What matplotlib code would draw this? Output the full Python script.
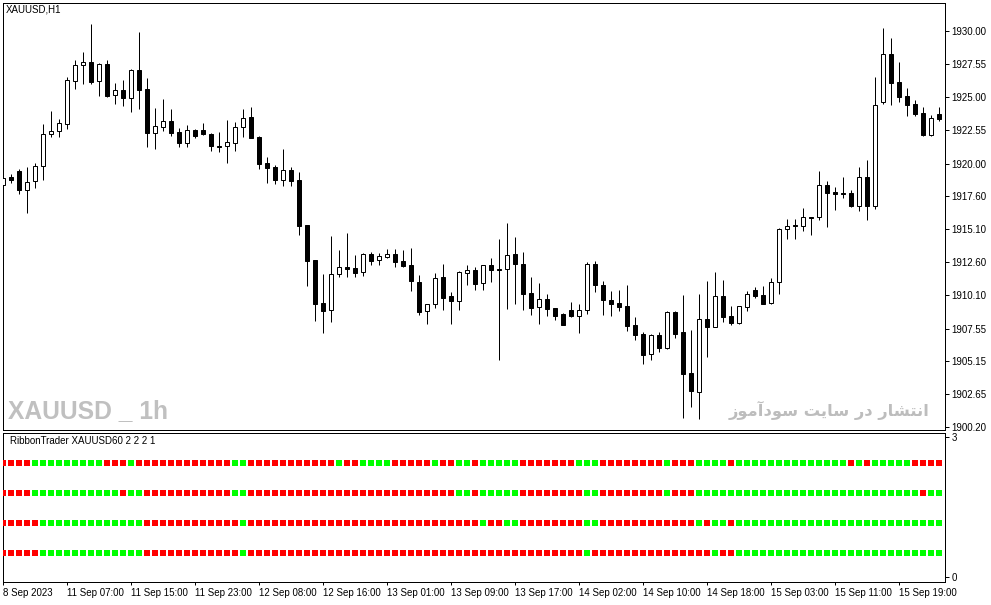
import matplotlib
matplotlib.use("Agg")
import matplotlib.pyplot as plt
import matplotlib.font_manager as fm
import numpy as np

# ---------------- data ----------------
opens = [
    1918.39, 1919.02, 1919.47, 1918.01, 1918.69, 1919.82, 1922.23, 1922.45, 1923.03, 1926.21,
    1927.42, 1927.64, 1926.21, 1927.52, 1925.16, 1925.54, 1924.98, 1927.04, 1925.64, 1922.35,
    1922.80, 1923.20, 1922.40, 1921.60, 1922.53, 1922.53, 1922.25, 1921.32, 1921.32, 1921.60,
    1922.75, 1923.53, 1922.02, 1920.07, 1919.77, 1918.81, 1919.54, 1918.79, 1915.40, 1912.77,
    1909.53, 1908.98, 1911.69, 1912.24, 1912.14, 1911.84, 1913.20, 1912.75, 1912.97, 1913.22,
    1912.70, 1912.39, 1911.12, 1908.91, 1909.43, 1911.47, 1910.04, 1909.71, 1911.77, 1911.99,
    1911.02, 1912.37, 1912.07, 1912.07, 1913.22, 1912.47, 1910.29, 1909.21, 1909.81, 1909.13,
    1908.68, 1908.98, 1908.58, 1908.98, 1912.47, 1910.89, 1909.76, 1909.54, 1909.31, 1907.88,
    1907.20, 1905.67, 1907.12, 1906.12, 1908.86, 1907.33, 1904.29, 1902.86, 1908.30, 1907.75,
    1910.03, 1908.55, 1908.05, 1909.21, 1910.49, 1910.11, 1909.56, 1911.09, 1915.08, 1915.38,
    1915.35, 1916.03, 1916.03, 1918.39, 1917.86, 1917.81, 1917.79, 1916.86, 1919.02, 1916.86,
    1924.68, 1928.27, 1926.16, 1925.11, 1924.51, 1923.83, 1922.18, 1923.76]

highs = [
    1919.24, 1919.24, 1919.62, 1919.79, 1920.04, 1923.00, 1923.98, 1923.38, 1926.54, 1927.82,
    1928.42, 1930.53, 1927.62, 1927.82, 1926.06, 1926.31, 1927.12, 1929.93, 1926.46, 1924.21,
    1924.88, 1924.13, 1922.68, 1922.93, 1922.60, 1923.08, 1922.30, 1922.40, 1923.30, 1923.13,
    1924.13, 1924.28, 1922.10, 1920.52, 1919.92, 1921.12, 1919.77, 1919.39, 1915.40, 1912.80,
    1911.72, 1914.58, 1913.52, 1914.80, 1913.15, 1913.30, 1913.37, 1913.32, 1913.60, 1913.60,
    1913.52, 1913.67, 1911.64, 1909.45, 1911.82, 1912.47, 1910.36, 1911.92, 1912.39, 1912.24,
    1912.37, 1912.92, 1914.35, 1915.55, 1914.50, 1913.37, 1911.49, 1911.04, 1910.21, 1909.13,
    1908.78, 1909.58, 1909.46, 1912.62, 1912.70, 1911.19, 1910.44, 1910.51, 1910.89, 1908.48,
    1907.38, 1907.17, 1907.33, 1908.91, 1908.91, 1910.13, 1907.50, 1910.21, 1911.19, 1911.87,
    1911.26, 1909.31, 1909.31, 1910.44, 1910.74, 1910.81, 1911.41, 1915.18, 1915.83, 1915.83,
    1916.66, 1916.03, 1919.47, 1918.69, 1918.24, 1919.02, 1918.04, 1919.77, 1920.29, 1926.54,
    1930.23, 1929.47, 1927.67, 1925.71, 1924.81, 1924.28, 1923.68, 1924.28]

lows = [
    1917.84, 1918.54, 1917.71, 1916.33, 1918.16, 1918.81, 1922.05, 1922.05, 1922.65, 1925.66,
    1926.04, 1926.04, 1925.13, 1925.06, 1924.53, 1924.38, 1923.93, 1924.16, 1921.30, 1921.15,
    1922.50, 1922.12, 1921.25, 1921.30, 1921.97, 1922.20, 1921.00, 1920.92, 1920.09, 1921.00,
    1922.05, 1921.95, 1919.62, 1918.59, 1918.49, 1918.36, 1918.36, 1914.65, 1910.84, 1908.20,
    1907.30, 1908.13, 1911.47, 1911.47, 1911.52, 1911.59, 1912.42, 1912.42, 1912.95, 1912.27,
    1912.22, 1910.46, 1908.63, 1907.98, 1909.16, 1909.01, 1907.98, 1909.01, 1910.91, 1910.54,
    1910.54, 1911.14, 1905.25, 1909.11, 1909.48, 1908.98, 1908.66, 1907.98, 1908.58, 1908.23,
    1907.88, 1908.51, 1907.30, 1908.73, 1910.39, 1908.66, 1908.58, 1908.96, 1907.45, 1906.78,
    1904.95, 1905.27, 1905.87, 1906.07, 1906.92, 1900.85, 1901.73, 1900.78, 1905.50, 1907.73,
    1908.13, 1907.88, 1907.98, 1908.96, 1909.91, 1909.48, 1909.48, 1910.23, 1914.37, 1914.37,
    1914.98, 1914.68, 1915.78, 1915.23, 1916.53, 1917.46, 1916.78, 1916.48, 1915.81, 1916.63,
    1924.53, 1924.43, 1924.68, 1923.60, 1923.60, 1922.13, 1922.13, 1923.25]

closes = [
    1918.96, 1918.81, 1918.06, 1918.61, 1919.84, 1922.23, 1922.45, 1923.05, 1926.29, 1927.42,
    1927.64, 1926.19, 1927.52, 1925.11, 1925.54, 1924.98, 1927.07, 1925.59, 1922.35, 1922.83,
    1923.20, 1922.35, 1921.60, 1922.53, 1922.12, 1922.27, 1921.37, 1921.28, 1921.62, 1922.75,
    1923.43, 1921.97, 1920.00, 1919.72, 1918.81, 1919.52, 1918.74, 1915.35, 1912.72, 1909.46,
    1908.96, 1911.72, 1912.24, 1912.12, 1911.82, 1913.22, 1912.72, 1913.05, 1913.20, 1912.65,
    1912.34, 1911.22, 1908.88, 1909.43, 1911.42, 1909.94, 1909.71, 1911.84, 1911.99, 1910.99,
    1912.37, 1912.04, 1912.05, 1913.12, 1912.44, 1910.24, 1909.18, 1909.81, 1909.11, 1908.58,
    1907.90, 1908.58, 1908.98, 1912.47, 1910.91, 1909.74, 1909.49, 1909.23, 1907.83, 1907.15,
    1905.65, 1907.12, 1906.12, 1908.86, 1907.23, 1904.22, 1902.94, 1908.30, 1907.75, 1910.03,
    1908.50, 1908.05, 1909.31, 1910.19, 1910.09, 1909.48, 1911.09, 1915.08, 1915.30, 1915.30,
    1915.98, 1915.96, 1918.39, 1917.84, 1917.76, 1917.76, 1916.86, 1919.02, 1916.86, 1924.41,
    1928.27, 1926.11, 1925.06, 1924.43, 1923.76, 1922.18, 1923.43, 1923.41]

# RibbonTrader rows as run lengths (R = red, G = green), one entry per bar
ribbon_1_runs = [("R", 4), ("G", 9), ("R", 3), ("G", 1), ("R", 12), ("G", 2), ("R", 11),
                 ("G", 1), ("R", 2), ("G", 4), ("R", 5), ("G", 1), ("R", 2), ("G", 2),
                 ("R", 1), ("G", 5), ("R", 7), ("G", 3), ("R", 8), ("G", 1), ("R", 3),
                 ("G", 4), ("R", 1), ("G", 14), ("R", 1), ("G", 1), ("R", 1), ("G", 5),
                 ("R", 4)]
ribbon_2_runs = [("R", 4), ("G", 11), ("R", 1), ("G", 2), ("R", 11), ("G", 2), ("R", 26),
                 ("G", 2), ("R", 1), ("G", 5), ("R", 8), ("G", 2), ("R", 8), ("G", 1),
                 ("R", 3), ("G", 28), ("R", 1), ("G", 2)]
ribbon_3_runs = [("R", 5), ("G", 13), ("R", 12), ("G", 1), ("R", 29), ("G", 1), ("R", 2),
                 ("G", 2), ("R", 8), ("G", 2), ("R", 12), ("G", 1), ("R", 1), ("G", 2),
                 ("R", 1), ("G", 26)]
ribbon_4_runs = [("R", 5), ("G", 13), ("R", 12), ("G", 1), ("R", 42), ("G", 1), ("R", 15),
                 ("G", 1), ("R", 2), ("G", 26)]

price_ticks = [1930.00, 1927.55, 1925.00, 1922.55, 1920.00, 1917.60, 1915.10,
               1912.60, 1910.10, 1907.55, 1905.15, 1902.65, 1900.20]
price_tick_labels = ["1930.00", "1927.55", "1925.00", "1922.55", "1920.00", "1917.60",
                     "1915.10", "1912.60", "1910.10", "1907.55", "1905.15", "1902.65",
                     "1900.20"]
time_tick_bars = [0, 8, 16, 24, 32, 40, 48, 56, 64, 72, 80, 88, 96, 104, 112]
time_tick_labels = ["8 Sep 2023", "11 Sep 07:00", "11 Sep 15:00", "11 Sep 23:00",
                    "12 Sep 08:00", "12 Sep 16:00", "13 Sep 01:00", "13 Sep 09:00",
                    "13 Sep 17:00", "14 Sep 02:00", "14 Sep 10:00", "14 Sep 18:00",
                    "15 Sep 03:00", "15 Sep 11:00", "15 Sep 19:00"]
panel_ticks = [3, 0]
panel_tick_labels = ["3", "0"]

symbol_title = "XAUUSD,H1"
indicator_title = "RibbonTrader XAUUSD60 2 2 2 1"
watermark_left = "XAUUSD _ 1h"
# "انتشار در سایت سودآموز" written in shaped (presentation) forms, visual order
watermark_right = ("\uFEAF\uFEEE\uFEE3\uFE81\uFEA9\uFEEE\uFEB3" + " " +
                   "\uFE96\uFEF3\uFE8E\uFEB3" + " " +
                   "\uFEAD\uFEA9" + " " +
                   "\uFEAD\uFE8E\uFEB8\uFE98\uFEE7\uFE8D")

# ---------------- styling ----------------
names = {f.name for f in fm.fontManager.ttflist}
small_font = "Liberation Sans" if "Liberation Sans" in names else "DejaVu Sans"
narrow_font = "Liberation Sans Narrow" if "Liberation Sans Narrow" in names else small_font

W, H = 991, 605
fig = plt.figure(figsize=(W / 100, H / 100), dpi=100)
fig.patch.set_facecolor("white")


def frac(x0, y0, x1, y1):
    return [x0 / W, 1 - y1 / H, (x1 - x0) / W, (y1 - y0) / H]


PX = 72 / 100  # one pixel in points

ax = fig.add_axes(frac(2.5, 2.5, 945, 430))
ax2 = fig.add_axes(frac(2.5, 432.5, 945, 582))

n = len(opens)
x = np.arange(n)
o = np.array(opens); c = np.array(closes); h = np.array(highs); l = np.array(lows)
up = c > o

# wicks
ax.vlines(x, l, h, color="black", linewidth=PX, zorder=2)
# bodies
bottoms = np.minimum(o, c)
heights = np.abs(c - o)
face = np.where(up, "white", "black")
ax.bar(x, heights, bottom=bottoms, width=0.52, color=face, edgecolor="black",
       linewidth=PX * 1.0, zorder=3)

# scale
px_per_unit = 396 / 29.8
ax.set_xlim((2.5 - 3.3) / 8, (945 - 3.3) / 8)
ax.set_ylim(1930 - (430 - 31) / px_per_unit, 1930 + (31 - 2.5) / px_per_unit)

ax.yaxis.tick_right()
ax.set_yticks(price_ticks)
ax.set_yticklabels(price_tick_labels)
ax.tick_params(axis="y", direction="out", length=4 * PX, width=PX, pad=2,
               labelsize=7, labelcolor="black")
ax.set_xticks([])
for s in ax.spines.values():
    s.set_linewidth(PX)
    s.set_color("black")
for lab in ax.get_yticklabels():
    lab.set_fontfamily(small_font)

# indicator panel
ribbons = [ribbon_1_runs, ribbon_2_runs, ribbon_3_runs, ribbon_4_runs]
row_px = [462.5, 492.8, 522.7, 553.0]
p3, p0 = 437.0, 577.0
unit = (p0 - p3) / 3.0
row_vals = [3 - (r - p3) / unit for r in row_px]
for runs, yv in zip(ribbons, row_vals):
    seq = "".join(ch * k for ch, k in runs)
    cols = ["#ff0000" if ch == "R" else "#00ff00" for ch in seq]
    ax2.scatter(np.arange(len(seq)), np.full(len(seq), yv), marker="s",
                s=(6 * PX) ** 2, c=cols, linewidths=0, zorder=3)

ax2.set_xlim(ax.get_xlim())
ax2.set_ylim(-(582 - p0) / unit, 3 + (p3 - 432.5) / unit)
ax2.yaxis.tick_right()
ax2.set_yticks(panel_ticks)
ax2.set_yticklabels(panel_tick_labels)
ax2.tick_params(axis="y", direction="out", length=4 * PX, width=PX, pad=2, labelsize=7)
ax2.set_xticks(time_tick_bars)
ax2.set_xticklabels(time_tick_labels, ha="left")
ax2.tick_params(axis="x", direction="out", length=3 * PX, width=PX, pad=2, labelsize=7)
for lab in ax2.get_xticklabels():
    lab.set_fontfamily(small_font)
for lab in ax2.get_yticklabels():
    lab.set_fontfamily(small_font)
for s in ax2.spines.values():
    s.set_linewidth(PX)
    s.set_color("black")

# texts
fig.text(6 / W, 1 - 10 / H, symbol_title, fontsize=7, family=small_font,
         ha="left", va="center", color="black")
fig.text(10 / W, 1 - 441 / H, indicator_title, fontsize=7, family=small_font,
         ha="left", va="center", color="black")

wm = fig.text(8 / W, 1 - 418 / H, watermark_left, fontsize=22, family=narrow_font,
              fontweight="bold", ha="left", va="baseline", color="#c0c0c0", zorder=0)
fa = fig.text(930 / W, 1 - 416 / H, watermark_right, fontsize=15, family="DejaVu Sans",
              fontweight="bold", ha="right", va="baseline", color="#bdbdbd", zorder=0)

fig.canvas.draw()
r = fig.canvas.get_renderer()
wpx = wm.get_window_extent(r).width
if wpx > 0:
    wm.set_fontsize(22 * min(1.15, 160 / wpx))
fpx = fa.get_window_extent(r).width
if fpx > 0:
    fa.set_fontsize(15 * 200 / fpx)

fig.savefig("out.png", dpi=100, facecolor="white")
